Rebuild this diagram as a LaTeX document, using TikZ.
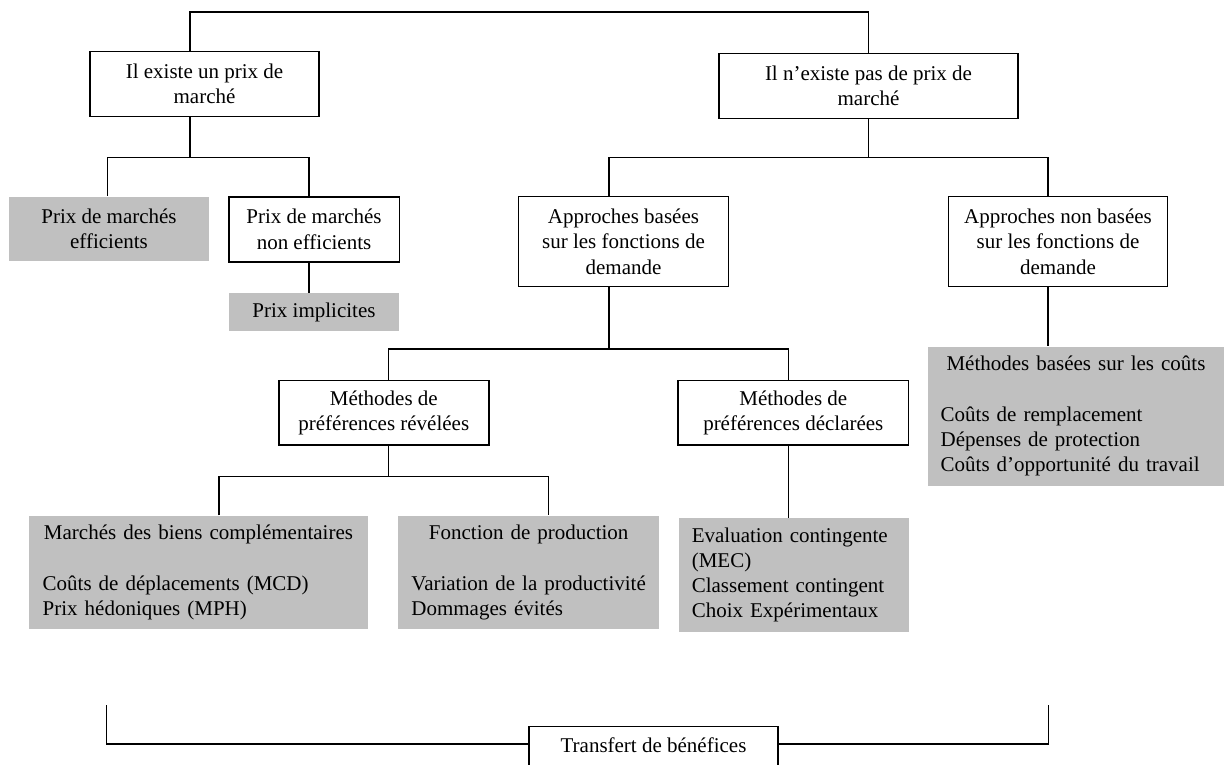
\documentclass[tikz,border=0pt]{standalone}
\usepackage{fontspec}
\setmainfont{Liberation Serif}
\usepackage{tikz}
\definecolor{boxgrey}{RGB}{192,192,192}

\begin{document}
\begin{tikzpicture}[x=1pt,y=-1pt,line width=1.5pt,
    font=\fontsize{21}{25.2}\selectfont,
    box/.style={draw,align=center,inner sep=0pt},
    greybox/.style={fill=boxgrey,inner sep=0pt,align=center},
    listbox/.style={fill=boxgrey,inner ysep=0pt,align=left}]
    \useasboundingbox (0,0) rectangle (1226,765);
    \fill[white] (0,0) rectangle (1226,765);
    \clip (0,0) rectangle (1226,765);

    \node[box,minimum width=229pt,minimum height=65pt] (prix) at (204.5,84.2) {Il existe un prix de\\marché};
    \node[box,minimum width=299pt,minimum height=65pt] (noprix) at (868.5,85.8) {Il n’existe pas de prix de\\marché};
    \node[greybox,minimum width=200pt,minimum height=64pt] (eff) at (109,228.7) {Prix de marchés\\efficients};
    \node[box,minimum width=170.5pt,minimum height=65pt] (noneff) at (314,229.3) {Prix de marchés\\non efficients};
    \node[greybox,minimum width=170pt,minimum height=37.4pt] (impl) at (314,312) {Prix implicites};
    \node[box,minimum width=210pt,minimum height=90pt] (avecdem) at (623.5,241.7) {Approches basées\\sur les fonctions de\\demande};
    \node[box,minimum width=219pt,minimum height=90pt] (sansdem) at (1058,241.7) {Approches non basées\\sur les fonctions de\\demande};
    \node[box,minimum width=210pt,minimum height=64.3pt] (revel) at (383.8,412.8) {Méthodes de\\préférences révélées};
    \node[box,minimum width=230.6pt,minimum height=64.3pt] (decl) at (793.3,412.8) {Méthodes de\\préférences déclarées};
    \node[listbox,inner xsep=12.7pt,text width=270.6pt,minimum height=139pt] (couts) at (1076,416.2)
        {\makebox[\linewidth]{Méthodes basées sur les coûts}\\[25.2pt]
         Coûts de remplacement\\Dépenses de protection\\Coûts d’opportunité du travail};
    \node[listbox,inner xsep=13.7pt,text width=311.6pt,minimum height=113.3pt] (compl) at (198.5,572.7)
        {\makebox[\linewidth]{Marchés des biens complémentaires}\\[25.2pt]
         Coûts de déplacements (MCD)\\Prix hédoniques (MPH)};
    \node[listbox,inner xsep=13pt,text width=234.6pt,minimum height=113.3pt] (prod) at (528.7,572.7)
        {\makebox[\linewidth]{Fonction de production}\\[25.2pt]
         Variation de la productivité\\Dommages évités};
    \node[listbox,inner xsep=12.8pt,text width=204pt,minimum height=113.4pt] (contin) at (793.8,575)
        {Evaluation contingente\\(MEC)\\Classement contingent\\Choix Expérimentaux};
    \node[box,minimum width=249pt,text height=16pt,text depth=45pt,inner ysep=10pt,anchor=base] (transf) at (653.5,752.7) {Transfert de bénéfices};

    \coordinate (top) at (868,12);
    \coordinate (bl) at (106.7,705);
    \coordinate (br) at (1048.3,705);

    \draw ([xshift=-14.5pt]prix.north) |- (top) -| (noprix.north);
    \draw ([xshift=-14.5pt]prix.south) -- ++(0,40) coordinate (f1);
    \draw ([xshift=-1.5pt]eff.north) |- (f1) -| ([xshift=-5pt]noneff.north);
    \draw ([xshift=-5pt]noneff.south) -- ([xshift=-5pt]impl.north);
    \draw (noprix.south) -- ++(0,38.4) coordinate (f2);
    \draw ([xshift=-14.5pt]avecdem.north) |- (f2) -| ([xshift=-10pt]sansdem.north);
    \draw ([xshift=-14.5pt]avecdem.south) -- ++(0,61.6) coordinate (f3);
    \draw ([xshift=4.7pt]revel.north) |- (f3) -| ([xshift=-5pt]decl.north);
    \draw ([xshift=-10pt]sansdem.south) -- ([xshift=-10pt]sansdem.south |- couts.north);
    \draw ([xshift=4.7pt]revel.south) -- ++(0,31) coordinate (f4);
    \draw ([xshift=20.5pt]compl.north) |- (f4) -| ([xshift=20pt]prod.north);
    \draw ([xshift=-5pt]decl.south) -- ([xshift=-5pt]decl.south |- contin.north);
    \draw (bl) |- ([yshift=8.7pt]transf.base west);
    \draw (br) |- ([yshift=8.7pt]transf.base east);
\end{tikzpicture}
\end{document}
